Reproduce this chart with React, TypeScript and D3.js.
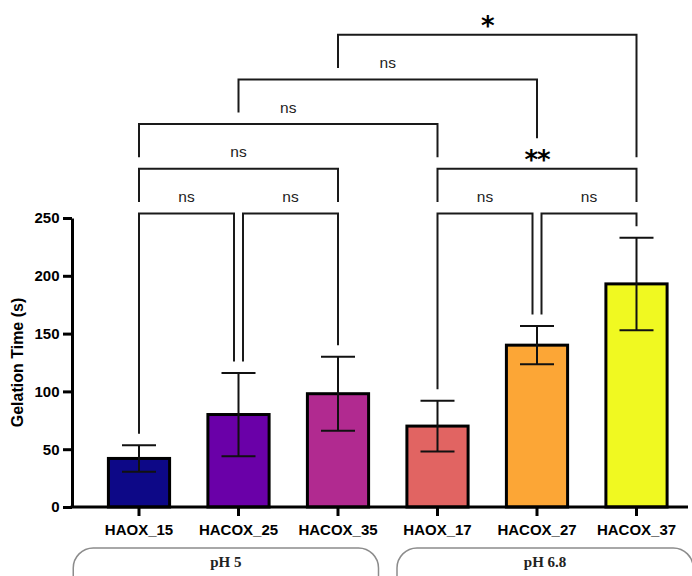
import React, { useEffect, useRef } from 'react';
import * as d3 from 'd3';

const categories = ['HAOX_15', 'HACOX_25', 'HACOX_35', 'HAOX_17', 'HACOX_27', 'HACOX_37'];
const means = [42, 80, 98, 70, 140, 193];
const sds = [11.5, 36, 32, 22, 16.5, 40];
const barColors = ['#0d0887', '#6a00a8', '#b12a90', '#e16462', '#fca636', '#f0f921'];
const yTicks = [0, 50, 100, 150, 200, 250];
const groupLabels = ['pH 5', 'pH 6.8'];
const groupFirst = [0, 3];
const groupLast = [2, 5];
// [from bar, to bar, label, stacking level]
const comparisons: [number, number, string, number][] = [
  [0, 1, 'ns', 0],
  [1, 2, 'ns', 0],
  [3, 4, 'ns', 0],
  [4, 5, 'ns', 0],
  [0, 2, 'ns', 1],
  [3, 5, '**', 1],
  [0, 3, 'ns', 2],
  [1, 4, 'ns', 3],
  [2, 5, '*', 4],
];

const W = 692;
const H = 576;
const SANS = '"Liberation Sans", Arial, Helvetica, sans-serif';

const Chart = () => {
  const ref = useRef<SVGSVGElement>(null);

  useEffect(() => {
    const svg = d3.select(ref.current);
    svg.selectAll('*').remove();

    const y = d3.scaleLinear().domain([0, 250]).range([507, 218]);
    const x = d3.scaleBand().domain(categories).range([89.25, 686.25])
      .paddingInner(0.385).paddingOuter(0.1925);
    const bw = x.bandwidth();
    const cx = (i: number) => (x(categories[i]) as number) + bw / 2;

    // bars
    svg.append('g').selectAll('rect')
      .data(categories)
      .enter().append('rect')
      .attr('x', d => x(d) as number)
      .attr('y', (d, i) => y(means[i]))
      .attr('width', bw)
      .attr('height', (d, i) => y(0) - y(means[i]))
      .attr('fill', (d, i) => barColors[i])
      .attr('stroke', '#000')
      .attr('stroke-width', 3);

    // error bars
    const eb = svg.append('g').attr('stroke', '#111').attr('stroke-width', 2);
    categories.forEach((c, i) => {
      const hi = y(means[i] + sds[i]);
      const lo = y(means[i] - sds[i]);
      eb.append('line').attr('x1', cx(i)).attr('x2', cx(i)).attr('y1', hi).attr('y2', lo);
      eb.append('line').attr('x1', cx(i) - 17).attr('x2', cx(i) + 17).attr('y1', hi).attr('y2', hi);
      eb.append('line').attr('x1', cx(i) - 17).attr('x2', cx(i) + 17).attr('y1', lo).attr('y2', lo);
    });

    // y axis
    const yAxis = svg.append('g')
      .attr('transform', 'translate(72,0)')
      .call(d3.axisLeft(y).tickValues(yTicks).tickSize(9).tickSizeOuter(0).tickPadding(3.5));
    yAxis.select('.domain').attr('stroke', '#000').attr('stroke-width', 3);
    yAxis.selectAll('.tick line').attr('stroke', '#000').attr('stroke-width', 3);
    yAxis.selectAll('.tick text')
      .attr('fill', '#000')
      .style('font-family', SANS)
      .style('font-size', '15px')
      .style('font-weight', 'bold');

    // x axis
    const xAxis = svg.append('g')
      .attr('transform', `translate(0,${y(0)})`)
      .call(d3.axisBottom(x).tickSize(9).tickSizeOuter(0).tickPadding(8.5));
    xAxis.select('.domain').remove();
    xAxis.selectAll('.tick line').attr('stroke', '#000').attr('stroke-width', 3);
    xAxis.selectAll('.tick text')
      .attr('fill', '#000')
      .style('font-family', SANS)
      .style('font-size', '15px')
      .style('font-weight', 'bold');
    svg.append('line')
      .attr('x1', 70.5).attr('x2', 688)
      .attr('y1', y(0)).attr('y2', y(0))
      .attr('stroke', '#000').attr('stroke-width', 3);

    svg.append('text')
      .attr('transform', `translate(23,${(y(0) + y(250)) / 2}) rotate(-90)`)
      .attr('text-anchor', 'middle')
      .style('font-family', SANS)
      .style('font-size', '16px')
      .style('font-weight', 'bold')
      .text('Gelation Time (s)');

    // significance brackets
    const base = y(250) - 4.5;
    const step = 44.7;
    const levelY = (l: number) => base - l * step;
    const brackets = comparisons.map(([a, b, label, lvl]) => {
      const sharedL = comparisons.some(o => o[3] === lvl && o[1] === a);
      const sharedR = comparisons.some(o => o[3] === lvl && o[0] === b);
      const x1 = cx(a) + (sharedL ? 4.5 : 0);
      const x2 = cx(b) - (sharedR ? 4.5 : 0);
      return { a, b, label, lvl, x1, x2, yb: levelY(lvl), mid: (x1 + x2) / 2 };
    });
    const legBottom = (bar: number, lx: number, lvl: number) => {
      const obst = [y(means[bar] + sds[bar])];
      brackets.forEach(o => {
        if (o.lvl >= lvl) return;
        if (lx >= o.x1 - 5 && lx <= o.x2 + 5) obst.push(o.yb);
        if (Math.abs(o.mid - lx) < 12) obst.push(o.yb - 19);
      });
      return (d3.min(obst) as number) - 11.5;
    };
    const bg = svg.append('g');
    brackets.forEach(br => {
      const bl = legBottom(br.a, br.x1, br.lvl);
      const brr = legBottom(br.b, br.x2, br.lvl);
      const p = d3.path();
      p.moveTo(br.x1, bl);
      p.lineTo(br.x1, br.yb);
      p.lineTo(br.x2, br.yb);
      p.lineTo(br.x2, brr);
      bg.append('path')
        .attr('d', p.toString())
        .attr('fill', 'none')
        .attr('stroke', '#1a1a1a')
        .attr('stroke-width', 2);
      const star = br.label !== 'ns';
      bg.append('text')
        .attr('x', br.mid)
        .attr('y', star ? br.yb + 0.5 : br.yb - 11.5)
        .attr('text-anchor', 'middle')
        .attr('fill', star ? '#000' : '#222')
        .style('font-family', star ? '"DejaVu Sans", sans-serif' : SANS)
        .style('font-size', star ? '26px' : '15.5px')
        .style('font-weight', star ? 'bold' : 'normal')
        .style('letter-spacing', star ? '-1px' : null)
        .text(br.label);
    });

    // group boxes
    const stepW = x.step();
    const start = x.range()[0];
    groupLabels.forEach((g, gi) => {
      const f = groupFirst[gi];
      const l = groupLast[gi];
      const left = start + f * stepW + (f === 0 ? -16 : 9.25);
      const right = start + (l + 1) * stepW + (l === categories.length - 1 ? 7 : -9.25);
      svg.append('rect')
        .attr('x', left).attr('y', 548)
        .attr('width', right - left).attr('height', 60)
        .attr('rx', 20).attr('ry', 20)
        .attr('fill', 'none')
        .attr('stroke', '#8c8c8c')
        .attr('stroke-width', 1.5);
      svg.append('text')
        .attr('x', (left + right) / 2)
        .attr('y', 566.5)
        .attr('text-anchor', 'middle')
        .attr('fill', '#222')
        .style('font-family', '"Liberation Serif", "Times New Roman", serif')
        .style('font-size', '15px')
        .style('font-weight', 'bold')
        .text(g);
    });
  }, []);

  return (
    <svg ref={ref} width={W} height={H}
      style={{ position: 'absolute', left: 0, top: 0, background: '#fff' }} />
  );
};

export default function App() {
  return <Chart />;
}
